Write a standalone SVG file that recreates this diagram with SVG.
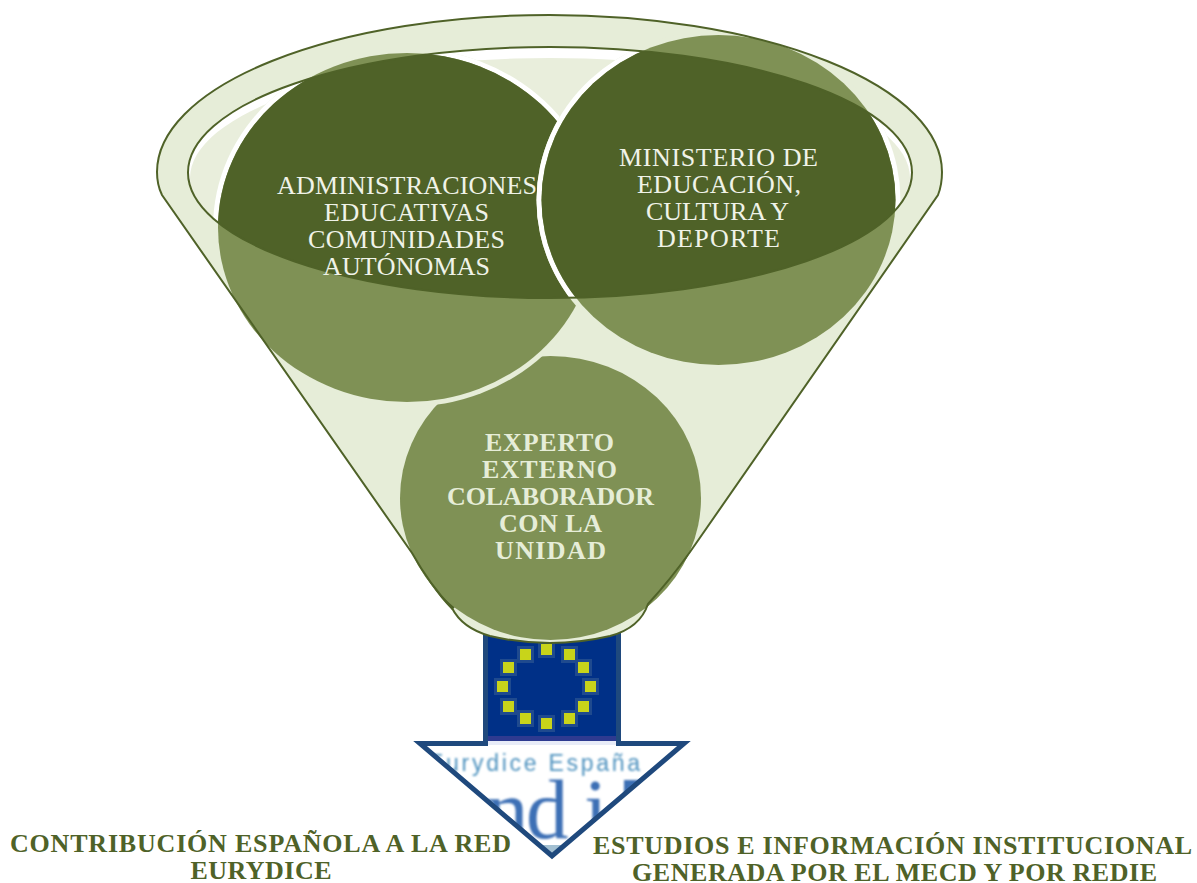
<svg xmlns="http://www.w3.org/2000/svg" xmlns:xlink="http://www.w3.org/1999/xlink" width="1197" height="883" viewBox="0 0 1197 883">
<defs>
<style>
.t{font-family:"Liberation Serif","Times New Roman",serif;text-anchor:middle}
.w{fill:#f0f3e8;font-size:26px}
.b{fill:#e6edd8;font-size:26px;font-weight:bold}
.g{fill:#4f6228;font-size:26px;font-weight:bold}
.light{fill:#7f9155}
.dark{fill:#4f6228}
.ringo{fill:#e6edd8}
.ringi{fill:#fff}
.star{fill:#c8d41a}
.halo{fill:#1f4a8e}
</style>
<ellipse id="rim" cx="550" cy="172.5" rx="362" ry="125.5"/>
<path id="fpath" d="M162 195Q157 185 157 172A392.500 157 0 0 1 942 172Q942 185 938 195L690 552Q670 580 648 604Q640 628 610 636Q580 643 550 643Q520 643 490 636Q462 628 452 608Q430 585 412 553Z"/>
<clipPath id="rimclip"><use xlink:href="#rim"/></clipPath>
<clipPath id="fclip"><use xlink:href="#fpath"/></clipPath>
<clipPath id="tri"><polygon points="421,746 683,746 552,856"/></clipPath>
<filter id="soft" x="-10%" y="-10%" width="120%" height="120%"><feGaussianBlur stdDeviation="1"/></filter>
<g id="s"><rect class="halo" x="-8" y="-8" width="17" height="17"/><rect class="star" x="-5" y="-5" width="11" height="11"/></g>
</defs>
<rect width="1197" height="883" fill="#fff"/>

<g id="eurydice">
<rect x="485" y="632" width="133" height="106" fill="#003087"/>
<rect x="485" y="736" width="133" height="5" fill="#2e3a90"/>
<rect x="485" y="741" width="133" height="4" fill="#e8ecf8"/>
<use xlink:href="#s" x="525" y="654"/><use xlink:href="#s" x="546" y="649"/><use xlink:href="#s" x="569" y="654"/>
<use xlink:href="#s" x="508" y="667"/><use xlink:href="#s" x="583" y="667"/><use xlink:href="#s" x="502" y="686"/>
<use xlink:href="#s" x="590" y="686"/><use xlink:href="#s" x="508" y="706"/><use xlink:href="#s" x="583" y="706"/>
<use xlink:href="#s" x="525" y="718"/><use xlink:href="#s" x="546" y="723"/><use xlink:href="#s" x="569" y="718"/>
<polygon points="421,746 683,746 552,856" fill="#fff"/>
<g clip-path="url(#tri)">
<text x="534" y="771" text-anchor="middle" textLength="212" filter="url(#soft)" style="font-family:'Liberation Sans',sans-serif;font-size:23px" fill="#4f93bf">Eurydice España</text>
<text x="486 526 584" y="838" filter="url(#soft)" style="font-family:'Liberation Serif',serif;font-size:85px" fill="#3d70b5">ndi</text>
<rect x="624" y="780" width="18" height="16" fill="#3d70b5" filter="url(#soft)"/>
<polygon points="536,845 568,845 552,858" fill="#a3c0d2"/>
</g>
<polygon points="485.500,632 485.500,743.500 420,743.500 552,856 684,743.500 618.500,743.500 618.500,632" fill="none" stroke="#1f497d" stroke-width="5"/>
</g>

<g id="funnel">
<use xlink:href="#fpath" fill="#e6edd8"/>
<use xlink:href="#rim" fill="#fff"/>
<ellipse cx="550" cy="178" rx="360" ry="120" fill="#e9eedc"/>
</g>

<g id="nodes">
<g id="n3">
<path d="M410 549Q430 588 452 610L456 606Q428 580 410 549Z" class="dark"/>
<path d="M692 549Q672 585 646 608L642 604Q672 578 692 549Z" class="dark"/>
<ellipse class="light" cx="550.500" cy="498" rx="150.500" ry="142"/>
</g>
<g id="n1">
<g clip-path="url(#fclip)">
<ellipse class="ringo" cx="407" cy="227.500" rx="194" ry="179.500"/>
<g clip-path="url(#rimclip)"><ellipse class="ringi" cx="407" cy="227.500" rx="194" ry="179.500"/></g>
</g>
<ellipse class="light" cx="407" cy="227.500" rx="189" ry="174.500"/>
<g clip-path="url(#rimclip)"><ellipse class="dark" cx="407" cy="227.500" rx="189" ry="174.500"/></g>
</g>
<g id="n2">
<g clip-path="url(#fclip)">
<ellipse class="ringo" cx="718.500" cy="200" rx="182" ry="170"/>
<g clip-path="url(#rimclip)"><ellipse class="ringi" cx="718.500" cy="200" rx="182" ry="170"/></g>
</g>
<ellipse class="light" cx="718.500" cy="200" rx="177" ry="165"/>
<g clip-path="url(#rimclip)"><ellipse class="dark" cx="718.500" cy="200" rx="177" ry="165"/></g>
</g>
</g>

<g id="outlines" fill="none" stroke="#4f6228" stroke-width="2">
<use xlink:href="#fpath"/>
<use xlink:href="#rim"/>
</g>

<g id="n1-text">
<text class="t w" x="407" y="194" textLength="260">ADMINISTRACIONES</text>
<text class="t w" x="406.500" y="221" textLength="165">EDUCATIVAS</text>
<text class="t w" x="406.500" y="248" textLength="197">COMUNIDADES</text>
<text class="t w" x="406.500" y="275" textLength="167">AUTÓNOMAS</text>
</g>
<g id="n2-text">
<text class="t w" x="718.500" y="166" textLength="199">MINISTERIO DE</text>
<text class="t w" x="719" y="193" textLength="164">EDUCACIÓN,</text>
<text class="t w" x="717.500" y="220" textLength="143">CULTURA Y</text>
<text class="t w" x="718.500" y="247" textLength="123">DEPORTE</text>
</g>
<g id="n3-text">
<text class="t b" x="549.500" y="451" textLength="129">EXPERTO</text>
<text class="t b" x="549.500" y="478" textLength="135">EXTERNO</text>
<text class="t b" x="550.500" y="505" textLength="207">COLABORADOR</text>
<text class="t b" x="550.500" y="532" textLength="103">CON LA</text>
<text class="t b" x="550.500" y="559" textLength="111">UNIDAD</text>
</g>
<g id="labels">
<text class="t g" x="260.500" y="852" textLength="501">CONTRIBUCIÓN ESPAÑOLA A LA RED</text>
<text class="t g" x="261" y="879" textLength="141">EURYDICE</text>
<text class="t g" x="892.500" y="854" textLength="599">ESTUDIOS E INFORMACIÓN INSTITUCIONAL</text>
<text class="t g" x="894.500" y="881" textLength="525">GENERADA POR EL MECD Y POR REDIE</text>
</g>
</svg>
